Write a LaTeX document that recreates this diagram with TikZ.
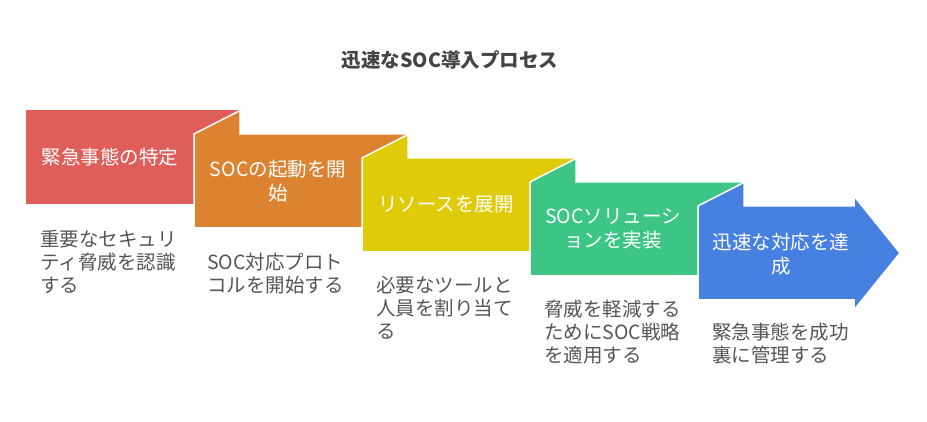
\documentclass[tikz,border=0pt]{standalone}
\usepackage{fontspec}
\setmainfont{Noto Sans CJK JP}
\definecolor{cred}{RGB}{224,94,90}
\definecolor{corange}{RGB}{219,131,49}
\definecolor{cyellow}{RGB}{224,203,10}
\definecolor{cgreen}{RGB}{60,197,132}
\definecolor{cblue}{RGB}{70,128,224}
\definecolor{cdesc}{RGB}{85,85,85}
\definecolor{ctitle}{RGB}{68,68,68}
\begin{document}
\begin{tikzpicture}[x=1pt,y=-1pt,
  stepshape/.style={draw=white,line width=1.5pt,line join=miter},
  boxlabel/.style={text=white,font=\fontsize{19.5}{24}\selectfont,align=center,inner sep=0pt},
  desc/.style={text=cdesc,font=\fontsize{19.5}{23}\selectfont,align=left,anchor=north west,inner sep=0pt},
]
\useasboundingbox (0,0) rectangle (927,422);
\node[font=\bfseries\fontsize{19.5}{22}\selectfont,text=ctitle] (title) at (450,60) {迅速なSOC導入プロセス};
% step 1
\fill[cred] (26,110) rectangle (240,204);
% step 2
\path[stepshape,fill=corange] (194,228) -- (194,134) -- (240,110.5) -- (240,134) -- (408,134) -- (408,228) -- cycle;
% step 3
\path[stepshape,fill=cyellow] (362,252) -- (362,158) -- (408,134.5) -- (408,158) -- (576,158) -- (576,252) -- cycle;
% step 4
\path[stepshape,fill=cgreen] (530,276) -- (530,182) -- (576,158.5) -- (576,182) -- (744,182) -- (744,276) -- cycle;
% step 5 arrow
\path[stepshape,fill=cblue] (698,300) -- (698,206) -- (744,182.5) -- (744,206) -- (854,206) -- (854,196) -- (900,253) -- (854,310) -- (854,300) -- cycle;
% labels
\node[boxlabel] (l1) at (110,157) {緊急事態の特定};
\node[boxlabel] (l2) at (278,181) {SOCの起動を開\\始};
\node[boxlabel] (l3) at (446,205) {リソースを展開};
\node[boxlabel] (l4) at (613,229) {SOCソリューシ\\ョンを実装};
\node[boxlabel] (l5) at (781,254) {迅速な対応を達\\成};
% descriptions
\node[desc] (d1) at (40,230) {重要なセキュリ\\ティ脅威を認識\\する};
\node[desc] (d2) at (207,253) {SOC対応プロト\\コルを開始する};
\node[desc] (d3) at (376,276) {必要なツールと\\人員を割り当て\\る};
\node[desc] (d4) at (544,300) {脅威を軽減する\\ためにSOC戦略\\を適用する};
\node[desc] (d5) at (712,323) {緊急事態を成功\\裏に管理する};
\end{tikzpicture}
\end{document}
